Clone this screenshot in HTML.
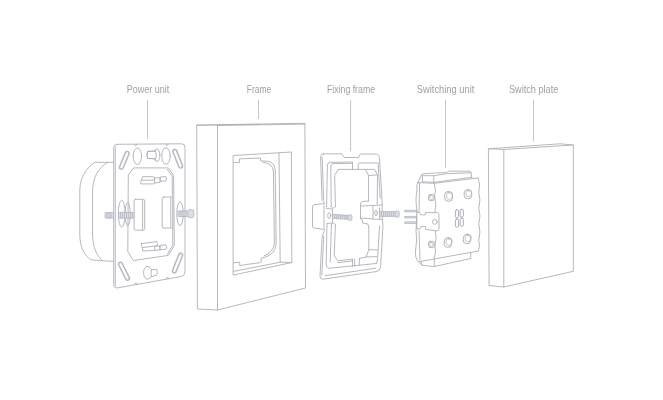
<!DOCTYPE html>
<html lang="en">
<head>
<meta charset="utf-8">
<title>Exploded view</title>
<style>
html,body{margin:0;padding:0;background:#fff;}
body{width:663px;height:400px;overflow:hidden;}
svg{display:block;filter:blur(0.3px);}
.l{fill:none;stroke:#aeb0b7;stroke-width:0.9;stroke-linejoin:round;stroke-linecap:round;}
.w{fill:#fff;stroke:#aeb0b7;stroke-width:0.9;stroke-linejoin:round;stroke-linecap:round;}
.t{font-family:"Liberation Sans",sans-serif;font-size:11.8px;fill:#9fa0a3;}
.ld{fill:none;stroke:#bfc0c4;stroke-width:0.9;}
.s{fill:#dcdee4;stroke:#aeb2bd;stroke-width:0.7;}
.h{fill:none;stroke:#a4a9b5;stroke-width:0.6;}
</style>
</head>
<body>
<svg width="663" height="400" viewBox="0 0 663 400">
<rect width="663" height="400" fill="#fff"/>

<!-- LABELS -->
<g class="t">
<text x="126.8" y="93.3" textLength="42.5" lengthAdjust="spacingAndGlyphs">Power unit</text>
<text x="246.8" y="93.3" textLength="24.5" lengthAdjust="spacingAndGlyphs">Frame</text>
<text x="327" y="93.3" textLength="48" lengthAdjust="spacingAndGlyphs">Fixing frame</text>
<text x="416.8" y="93.3" textLength="57.5" lengthAdjust="spacingAndGlyphs">Switching unit</text>
<text x="509" y="93.3" textLength="49.3" lengthAdjust="spacingAndGlyphs">Switch plate</text>
</g>
<g class="ld">
<path d="M147.5 100V138.8"/>
<path d="M258.5 100V119"/>
<path d="M350.6 100V151.3"/>
<path d="M445.5 100V168"/>
<path d="M533.5 100V141.3"/>
</g>

<!-- POWER UNIT -->
<g id="power">
<!-- body behind -->
<path class="l" d="M113 162.3H94.9C86 168 80 178 79.8 190V235C80 248 85 256 91.1 259.9L113 261.4"/>
<path class="l" d="M107.7 162.3C98 168 92.8 178 92.6 190V235C93 248 97 256 102.4 260.6"/>
<!-- left screw back -->
<rect class="s" x="105" y="212.4" width="9" height="5.8" rx="1"/>
<path class="h" d="M107 212.4v5.8M109 212.4v5.8M111 212.4v5.8"/>
<!-- plate -->
<path class="w" d="M117 144.3L181.6 143.8Q185 143.8 185 147.4V271.6Q185 275.6 181.2 276.5L118 287.8Q113.7 288.6 113.7 284.2V147.8Q113.7 144.3 117 144.3Z"/>
<path class="l" d="M115.3 147V286"/>
<path class="l" d="M134.4 144.2l1.4 1.6l1.4-1.6M165.6 143.9l1.4 1.6l1.4-1.6"/>
<path class="l" d="M134.4 284.6l1.2-1.8l1.6 1.2M166.1 279l1.2-1.8l1.6 1.2"/>
<!-- slots -->
<g fill="none" stroke="#babdc6" stroke-width="1.6">
<rect x="122.35" y="150.9" width="3.8" height="18.9" rx="1.9" transform="rotate(22.5 124.25 160.35)"/>
<rect x="175.8" y="148.9" width="3.8" height="19.6" rx="1.9" transform="rotate(-21.5 177.7 158.7)"/>
<rect x="122.1" y="261.4" width="3.8" height="19.6" rx="1.9" transform="rotate(-26.5 124 271.2)"/>
<rect x="175.6" y="252.6" width="3.8" height="20.8" rx="1.9" transform="rotate(21.6 177.5 263)"/>
</g>
<!-- ovals top -->
<ellipse class="l" cx="137.4" cy="156.2" rx="4.2" ry="8.3"/>
<ellipse class="l" cx="166" cy="156" rx="4.2" ry="8.2"/>
<!-- keyhole top -->
<ellipse class="l" cx="157" cy="155.2" rx="2.9" ry="6.3"/>
<path class="w" d="M155 151L147.6 151.4Q146.3 155 147.6 158.4L155 158.8" stroke="none"/>
<path class="l" d="M154.4 151L147.6 151.4Q146.3 155 147.6 158.4L154.4 158.8"/>
<path class="l" d="M155.4 150.4Q157.6 155 155.4 160.2"/>
<!-- keyhole bottom -->
<path class="l" d="M146.5 266.4Q143.2 268.5 143.6 273.5Q144.2 279.3 148 279.2L151.6 276.6L156.6 275.2Q158 272.4 156.8 269.4L151.4 269.8Q149.5 265.4 146.5 266.4Z"/>
<path class="l" d="M151.4 269.8Q150.2 273 151.6 276.6"/>
<!-- inner opening -->
<path class="l" d="M134.1 167.9H168.3L173.6 175.4L174.3 245.6L168.3 255.4L133.3 260.6L127.8 251.6L128.3 175.4Z"/>
<path class="l" d="M167.2 169.3L172.2 176L172.8 245.2L167.4 254.2"/>
<!-- terminal clips -->
<path class="l" d="M142.8 176.7H153.6L154.6 178V183L153.8 183.9H140.8Q140.3 182 141.4 180Z"/>
<path class="l" d="M141.6 180.2H153.6L154.4 178.4"/>
<path class="l" d="M154.6 178L160 177.6V182.4L154.6 183"/>
<path class="l" d="M160.6 177L165.8 176.5Q167.5 178.8 165.8 181L160.6 181.4Z"/>
<path class="l" d="M141.6 243.6L157 241.6Q158 243.6 157.2 245.8L142 247.6Q141 245.6 141.6 243.6Z"/>
<path class="l" d="M142.6 247.8V251L154.8 250.4V246.4"/>
<path class="l" d="M154.8 246.4L159.8 245.8V250L154.8 250.4"/>
<path class="l" d="M160.4 245.4L165.8 244.9Q167.6 247 165.8 249.2L160.4 249.8Z"/>
<!-- blocks -->
<rect class="w" x="134.1" y="199.3" width="10.6" height="30.9" rx="1.6"/>
<path class="l" d="M142.6 200V229.6"/>
<rect class="w" x="162.2" y="197" width="10.6" height="31" rx="1.6"/>
<path class="l" d="M170.8 197.6V227.4"/>
<!-- left ovals + screw -->
<ellipse class="l" cx="121.7" cy="213.7" rx="3.4" ry="13.5"/>
<ellipse class="l" cx="127.7" cy="214" rx="2.6" ry="11.7"/>
<rect class="s" x="118.5" y="212.4" width="15.6" height="5.8" rx="1"/>
<path class="h" d="M120.5 212.4v5.8M122.5 212.4v5.8M124.5 212.4v5.8M126.5 212.4v5.8M128.5 212.4v5.8M130.5 212.4v5.8M132.3 212.4v5.8"/>
<!-- right oval + screw -->
<ellipse class="l" cx="180" cy="213.7" rx="3.2" ry="12"/>
<rect class="s" x="178" y="210.9" width="11" height="5.6" rx="0.8"/>
<path class="h" d="M180 210.9v5.6M182 210.9v5.6M184 210.9v5.6M186 210.9v5.6"/>
<rect class="s" x="187.9" y="209.6" width="6" height="8.2" rx="2"/>
</g>

<!-- FRAME -->
<g id="frame">
<path class="l" d="M197.1 125L304.9 123.3L305.5 288L217.5 310L197.8 309Z"/>
<path class="l" d="M217.5 125.4V310M217.5 125.4L304.9 124.1M197.1 125.3L260 124.5"/>
<path class="l" d="M233.5 155.5L291.4 152L291.8 262.5L233.5 275Z"/>
<path class="l" d="M279 152.8L280.2 262.2L291.8 262.5"/>
<path class="l" d="M233.5 271.4L280.2 262.2"/>
<!-- inner clip profile -->
<path class="l" d="M233.6 162.6H239.5V158.9L260.5 158V160.8L267.5 161.2Q274.6 162.5 275.2 170L276.2 244Q275.4 254 265 257.2L261.2 258.2V262.1L259.5 262.7L239.7 265.5V262.1L233.6 262.8"/>
<path class="l" d="M263 162.4Q272.6 163 273.4 171L274.4 243Q273.6 252.6 264 255.8"/>
</g>

<!-- FIXING FRAME -->
<g id="fix">
<!-- outer -->
<path class="l" d="M323.6 153.8H341.6L344.3 157.5H358.6L360.4 154H376.4Q379.4 154.4 379.6 159L381.9 198L382.2 205V219.5L383 225L380.6 267Q380 271 376 271.6L323 279.2Q319.8 279.4 320 275.6L322.2 236L324.5 230.5V229.5L314 228Q312.5 227.6 312.5 226V207Q312.5 205 314 204.8L324.5 203.5V203L322 199.6L320.6 157Q320.8 153.8 323.6 153.8Z"/>
<path class="l" d="M322.2 157.4L323.6 199.6M323.8 236L321.8 275"/>
<path class="l" d="M325.4 275.7L375.6 268.2"/>
<path class="l" d="M378.2 164.2L380.2 198M379.6 226L378.1 250Q377.8 259 376.9 262.6"/>
<!-- second ring -->
<path class="l" d="M329.6 162.4L352.5 162V169.4M358.2 169.4V164.4Q358.4 163 360 163L379.6 163"/>
<path class="l" d="M327.4 165Q327.6 162.4 329.6 162.4M327.4 165L326.6 207M327 224L326.2 264Q326.4 268.4 329.6 268.2L376.9 263.4"/>
<path class="l" d="M352 163.4L333 163.6Q330.9 163.8 330.8 166L331.2 206.5M331.4 224.5L330.2 262"/>
<!-- innermost opening -->
<path class="l" d="M338.2 169.4H374.4L377.5 174.9L377.2 204M338.2 169.4L334.6 175.5L335.5 206.5M335.4 224.5L334.2 255.4L337.6 260.8L352.5 259.2M359.3 258.4L366.2 257L368.8 249.6V227M368.6 201V175.5L365.6 169.9"/>
<path class="l" d="M368.8 175.5L377.5 174.9M368.8 249.6L377.6 250M366.2 257L376.6 256.6"/>
<path class="l" d="M331.2 206.5Q333.4 210 335.5 206.5M331.4 224.5Q333.4 221.4 335.4 224.5"/>
<!-- bottom tab -->
<path class="l" d="M352.5 259.2V266.2M359.3 258.4V265.4M354.6 259V266"/>
<path class="l" d="M337.6 262.6L352.5 261"/>
<!-- left lug -->
<path class="l" d="M324 205V228.4"/>
<path class="l" d="M326.6 208.6L332.5 209V223L326.8 223.6"/>
<ellipse class="l" cx="329.2" cy="215.6" rx="1.5" ry="3"/>
<g transform="rotate(3.5 332.5 216.4)">
<rect class="s" x="332.6" y="214.4" width="16.4" height="4" rx="0.8"/>
<path class="h" d="M334.6 214.4v4M336.6 214.4v4M338.6 214.4v4M340.6 214.4v4M342.6 214.4v4M344.6 214.4v4M346.6 214.4v4"/>
<rect class="s" x="348" y="213.6" width="4" height="5.8" rx="1.6"/>
</g>
<!-- right lug -->
<path class="l" d="M368.5 201L362.5 201.5Q360.5 201.8 360.5 204V219L362.5 220V223L368 224L368.6 227"/>
<path class="l" d="M361.4 206L373 205.5L382.2 205M361.4 218L373 219L382.2 219.5M373 205.5V219M379.5 208V219.2"/>
<ellipse class="l" cx="376" cy="213" rx="1.3" ry="2.8"/>
<rect class="s" x="379.6" y="211.6" width="16.6" height="4.8" rx="0.8"/>
<path class="h" d="M381.6 211.6v4.8M383.6 211.6v4.8M385.6 211.6v4.8M387.6 211.6v4.8M389.6 211.6v4.8M391.6 211.6v4.8M393.6 211.6v4.8"/>
<rect class="s" x="395.3" y="210.9" width="4" height="6.4" rx="1.6"/>
</g>

<!-- SWITCHING UNIT -->
<g id="sw">
<!-- pins -->
<g class="s">
<rect x="404.8" y="210.2" width="12" height="1.7"/>
<rect x="404.8" y="216.3" width="12" height="1.7"/>
<rect x="404.8" y="221.8" width="12" height="1.7"/>
</g>
<!-- top block -->
<path class="l" d="M417.9 182.5L421.3 175Q421.9 173.8 423.2 173.7L447.3 172.4L448.5 171.2H470L471.1 172.4L471.7 177.4"/>
<path class="l" d="M422.4 175.7H433.8L447.3 173.6L471.1 172.8"/>
<path class="l" d="M422.4 175.7V182M433.8 175.7V182.6"/>
<path class="l" d="M422.4 181.8L433.8 182.4L471.7 177.2"/>
<!-- body -->
<path class="l" d="M417.9 182.6L434.2 183.3L478.3 177.9Q480.6 185 478.8 192Q481 200 478.8 208Q481.2 216 478.8 224Q481 232 478.8 240Q480.4 246 478.3 251L434.2 259L418.6 261.8Q414.6 258 415.6 250Q417.6 240 416 230L417.2 212.4Q415 200 417 190Q416 185 417.9 182.6Z"/>
<path class="l" d="M434.2 183.3Q436.6 190 434.6 197Q437 204 435 212M435.4 230.6Q437 238 435 245Q436.4 252 434.2 259"/>
<path class="l" d="M419.6 183L419 212M419 231L420 260"/>
<!-- bottom block -->
<path class="l" d="M418.6 261.8L422 265.2L434.2 266.6L470.8 258.4V253M434.2 259V266.6M422 265.2L421.2 261.4"/>
<!-- bracket -->
<path class="w" d="M417.2 212.4H419.6L420.4 214.8H425.4V212.6H437.2Q439.2 213 439 215V229Q439 231 437.2 230.9L425.6 229.4V226.6H420.6L419.8 229H417.2Z"/>
<circle class="l" cx="434.8" cy="221.9" r="2.4"/>
<!-- holes -->
<g class="l">
<rect x="428.6" y="194.6" width="5.6" height="6" rx="1.4"/>
<rect x="429.8" y="195.8" width="3.2" height="3.6" rx="0.6" stroke-width="0.7"/>
<rect x="428.6" y="241.4" width="5.6" height="6.2" rx="1.4"/>
<rect x="429.8" y="242.6" width="3.2" height="3.8" rx="0.6" stroke-width="0.7"/>
<rect x="444.7" y="191.6" width="7.9" height="9.6" rx="3.3"/>
<rect x="446.6" y="192.8" width="5.6" height="6.4" rx="2.2" stroke-width="0.7"/>
<rect x="464.2" y="189.6" width="7.5" height="9.1" rx="3.2"/>
<rect x="466" y="190.7" width="5.3" height="6" rx="2.1" stroke-width="0.7"/>
<g transform="rotate(10 448 242.4)">
<rect x="444.2" y="237.6" width="7.6" height="9.7" rx="3.3"/>
<rect x="446" y="238.8" width="5.3" height="6.4" rx="2.1" stroke-width="0.7"/>
</g>
<g transform="rotate(10 467.1 238.9)">
<rect x="463.4" y="234.2" width="7.5" height="9.4" rx="3.2"/>
<rect x="465.2" y="235.3" width="5.2" height="6.2" rx="2.1" stroke-width="0.7"/>
</g>
<g stroke="#a3a6ae"><rect x="455.4" y="209.8" width="3.2" height="8" rx="1.3"/>
<rect x="455.4" y="219" width="3.2" height="8.2" rx="1.3"/>
<rect x="460.2" y="209.3" width="3.2" height="7.6" rx="1.3"/>
<rect x="460.2" y="218" width="3.2" height="8.2" rx="1.3"/></g>
</g>
</g>

<!-- SWITCH PLATE -->
<g id="plate">
<path class="l" d="M488.8 148.8L503.8 149.5L573.3 145V271.3L503.8 287L489.5 285.5Z"/>
<path class="l" d="M503.8 149.5V287"/>
<path class="l" d="M488.8 148.8L560 143.8L573.3 145"/>
</g>
</svg>
</body>
</html>
